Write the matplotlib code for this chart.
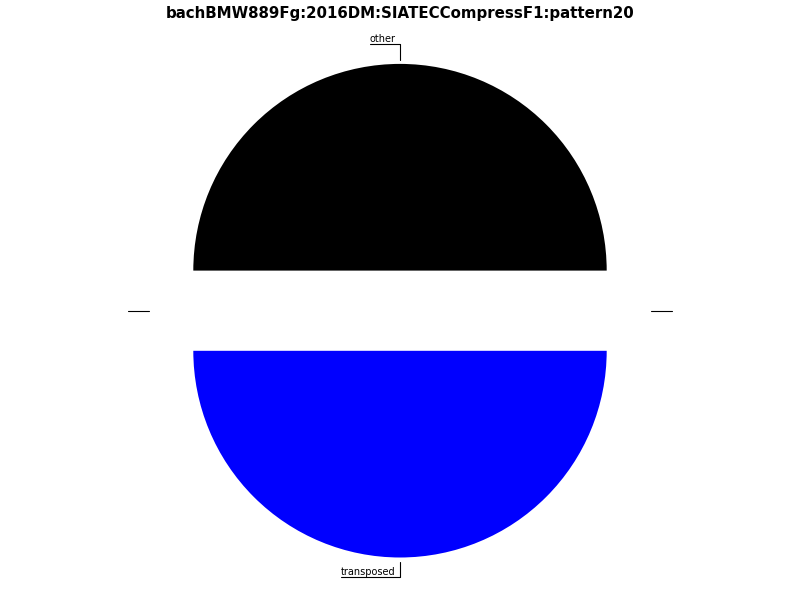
import matplotlib
matplotlib.use("Agg")
import matplotlib.pyplot as plt
import numpy as np

title = "bachBMW889Fg:2016DM:SIATECCompressF1:pattern20"
labels = ["other", "", "transposed", ""]
values = [1, 0, 1, 0]
colors = ["#000000", "#000000", "#0000ff", "#0000ff"]

W, H = 800, 600
fig = plt.figure(figsize=(W / 100, H / 100), dpi=100)
ax = fig.add_axes([0, 0, 1, 1])

scale = 206.7          # pixels per data unit
cx_px, cy_px = 400.0, 310.7   # pie centre in pixels (from top-left)

wedges, _ = ax.pie(values, colors=colors, startangle=0, counterclock=True,
                   explode=[0.194] * len(values), radius=1.0)
ax.set_xlim(-cx_px / scale, (W - cx_px) / scale)
ax.set_ylim(-(H - cy_px) / scale, cy_px / scale)
ax.set_aspect("auto")
ax.axis("off")

for w, lab in zip(wedges, labels):
    ang = np.deg2rad((w.theta1 + w.theta2) / 2.0)
    dx, dy = np.cos(ang), np.sin(ang)
    tip = (1.215 * dx, 1.215 * dy)
    vertical = abs(dx) < 0.5
    tx = 1.315 * dx - (0.02 if vertical else 0.0)
    ty = 1.29 * dy
    ax.annotate(lab, xy=tip, xytext=(tx, ty), ha="right", va="bottom",
                fontsize=7, color="black",
                arrowprops=dict(arrowstyle="-", color="black", lw=0.8,
                                shrinkA=0, shrinkB=0, patchA=None,
                                relpos=(0, 0),
                                connectionstyle="angle,angleA=0,angleB=90"))

fig.text(0.5, 1 - 18.3 / H, title, ha="center", va="baseline",
         fontsize=10.8, fontweight="bold")

fig.savefig("out.png", dpi=100)
